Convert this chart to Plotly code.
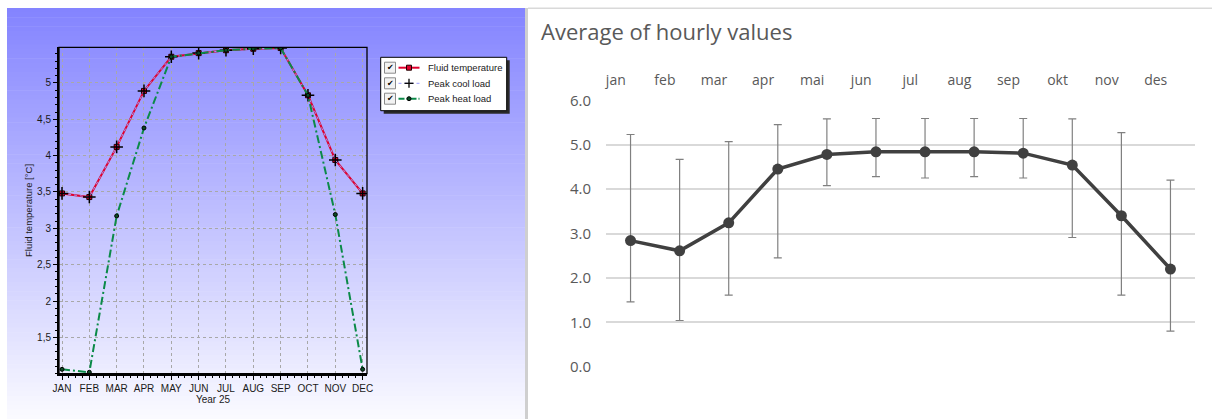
import plotly.graph_objects as go

# ---------------- data ----------------
months_left = ["JAN", "FEB", "MAR", "APR", "MAY", "JUN", "JUL", "AUG", "SEP", "OCT", "NOV", "DEC"]
fluid_temperature = [3.48, 3.43, 4.12, 4.89, 5.36, 5.41, 5.45, 5.47, 5.48, 4.83, 3.94, 3.48]
peak_cool_load = [3.48, 3.43, 4.12, 4.89, 5.36, 5.41, 5.45, 5.47, 5.48, 4.83, 3.94, 3.48]
peak_heat_load = [1.06, 1.02, 3.17, 4.38, 5.36, 5.41, 5.45, 5.47, 5.48, 4.83, 3.19, 1.06]
left_ytick_vals = [1.5, 2, 2.5, 3, 3.5, 4, 4.5, 5]
left_ytick_text = ["1,5", "2", "2,5", "3", "3,5", "4", "4,5", "5"]

months_right = ["jan", "feb", "mar", "apr", "mai", "jun", "jul", "aug", "sep", "okt", "nov", "des"]
avg_values = [2.84, 2.61, 3.24, 4.45, 4.78, 4.84, 4.84, 4.84, 4.81, 4.54, 3.40, 2.20]
max_values = [5.23, 4.67, 5.07, 5.45, 5.58, 5.59, 5.59, 5.59, 5.59, 5.58, 5.27, 4.20]
min_values = [1.46, 1.04, 1.61, 2.45, 4.08, 4.28, 4.25, 4.28, 4.25, 2.91, 1.61, 0.80]

# ---------------- helpers ----------------
W, H = 1212, 419
def px(x):
    return x / W
def py(y):
    return 1 - y / H

idx = list(range(12))
fig = go.Figure()

# ---------------- left chart traces ----------------
fig.add_trace(go.Scatter(
    x=idx, y=fluid_temperature, name="Fluid temperature", mode="lines+markers",
    line=dict(color="#e0002c", width=2),
    marker=dict(symbol="square", size=5, color="#e0002c", line=dict(color="#200000", width=1)),
    xaxis="x", yaxis="y", showlegend=False))
fig.add_trace(go.Scatter(
    x=idx, y=peak_cool_load, name="Peak cool load", mode="lines+markers",
    line=dict(color="#9a9aff", width=1, dash="dot"),
    marker=dict(symbol="cross-thin", size=9, color="black", line=dict(color="black", width=1.5)),
    xaxis="x", yaxis="y", showlegend=False))
fig.add_trace(go.Scatter(
    x=idx, y=peak_heat_load, name="Peak heat load", mode="lines+markers",
    line=dict(color="#0b8a48", width=2, dash="8px,3px,2px,3px"),
    marker=dict(symbol="circle", size=4, color="#0a4a24", line=dict(color="black", width=1)),
    xaxis="x", yaxis="y", showlegend=False))

# ---------------- right chart traces ----------------
err_plus = [mx - a for mx, a in zip(max_values, avg_values)]
err_minus = [a - mn for a, mn in zip(avg_values, min_values)]
fig.add_trace(go.Scatter(
    x=idx, y=avg_values, name="Average", mode="lines+markers",
    line=dict(color="#404040", width=3.5),
    marker=dict(size=11, color="#404040"),
    error_y=dict(type="data", symmetric=False, array=err_plus, arrayminus=err_minus,
                 color="#808080", thickness=1.2, width=4),
    xaxis="x3", yaxis="y3", showlegend=False))
# invisible trace for the top category axis
fig.add_trace(go.Scatter(x=idx, y=avg_values, mode="markers", marker=dict(opacity=0),
                         hoverinfo="skip", xaxis="x4", yaxis="y3", showlegend=False))

shapes = []
# gradient background of left panel
N = 90
top_y, bot_y = 8, 419
c0, c1 = (132, 132, 255), (250, 250, 255)
for i in range(N):
    t = i / (N - 1)
    col = tuple(int(round(c0[k] + (c1[k] - c0[k]) * t)) for k in range(3))
    y0 = top_y + (bot_y - top_y) * i / N
    y1 = top_y + (bot_y - top_y) * (i + 1) / N + 0.6
    shapes.append(dict(type="rect", xref="paper", yref="paper", layer="below",
                       x0=px(7), x1=px(525), y0=py(min(y1, 419)), y1=py(y0),
                       fillcolor="rgb(%d,%d,%d)" % col, line=dict(width=0)))
# separator & top border of right panel
shapes.append(dict(type="line", xref="paper", yref="paper", x0=px(526.5), x1=px(526.5),
                   y0=0, y1=py(8), line=dict(color="#cfcfcf", width=3)))
shapes.append(dict(type="line", xref="paper", yref="paper", x0=px(528), x1=1,
                   y0=py(8.3), y1=py(8.3), line=dict(color="#d9d9d9", width=1.5)))
# frame top/right of left plot
shapes.append(dict(type="rect", xref="x domain", yref="y domain", x0=0, x1=1, y0=0, y1=1,
                   line=dict(color="black", width=1.3)))

# manual legend
lx0, lx1, ly0, ly1 = 380.7, 506.7, 57.3, 110.7
shapes.append(dict(type="rect", xref="paper", yref="paper", x0=px(lx0 + 3), x1=px(lx1 + 3),
                   y0=py(ly1 + 3), y1=py(ly0 + 3), fillcolor="#2a2a2a", line=dict(width=0)))
shapes.append(dict(type="rect", xref="paper", yref="paper", x0=px(lx0), x1=px(lx1),
                   y0=py(ly1), y1=py(ly0), fillcolor="white", line=dict(color="black", width=1)))
rows = [67.7, 83.3, 98.7]
legend_names = ["Fluid temperature", "Peak cool load", "Peak heat load"]
annotations = []
for r, name in zip(rows, legend_names):
    shapes.append(dict(type="rect", xref="paper", yref="paper", x0=px(384.5), x1=px(395.5),
                       y0=py(r + 5.5), y1=py(r - 5.5), fillcolor="#f2f2f2",
                       line=dict(color="#8a8a8a", width=1)))
    annotations.append(dict(text="✔", x=px(390), y=py(r), xref="paper", yref="paper",
                            showarrow=False, xanchor="center", yanchor="middle",
                            font=dict(family="DejaVu Sans", size=8, color="black")))
    annotations.append(dict(text=name, x=px(425.5), y=py(r), xref="paper", yref="paper",
                            showarrow=False, xanchor="left", yanchor="middle",
                            font=dict(family="Liberation Sans", size=9.5, color="#1a1a1a")))
# legend samples
r = rows[0]
shapes.append(dict(type="line", xref="paper", yref="paper", x0=px(398.5), x1=px(419.5),
                   y0=py(r), y1=py(r), line=dict(color="#e0002c", width=2)))
shapes.append(dict(type="rect", xref="paper", yref="paper", x0=px(406.5), x1=px(411.5),
                   y0=py(r + 2.5), y1=py(r - 2.5), fillcolor="#e0002c", line=dict(color="#200000", width=1)))
r = rows[1]
shapes.append(dict(type="line", xref="paper", yref="paper", x0=px(398.5), x1=px(419.5),
                   y0=py(r), y1=py(r), line=dict(color="#9a9aff", width=1, dash="dot")))
shapes.append(dict(type="line", xref="paper", yref="paper", x0=px(404.5), x1=px(413.5),
                   y0=py(r), y1=py(r), line=dict(color="black", width=1.3)))
shapes.append(dict(type="line", xref="paper", yref="paper", x0=px(409), x1=px(409),
                   y0=py(r + 4.5), y1=py(r - 4.5), line=dict(color="black", width=1.3)))
r = rows[2]
shapes.append(dict(type="line", xref="paper", yref="paper", x0=px(398.5), x1=px(419.5),
                   y0=py(r), y1=py(r), line=dict(color="#0b8a48", width=2, dash="6px,2px,2px,2px")))
shapes.append(dict(type="circle", xref="paper", yref="paper", x0=px(407), x1=px(411),
                   y0=py(r + 2), y1=py(r - 2), fillcolor="#0a4a24", line=dict(color="black", width=1)))

# right title
annotations.append(dict(text="Average of hourly values", x=px(539), y=py(31), xref="paper", yref="paper",
                        showarrow=False, xanchor="left", yanchor="middle",
                        font=dict(family="Open Sans", size=22, color="#595959")))

left_font = dict(family="Liberation Sans", size=10, color="#1a1a1a")
right_font = dict(family="Open Sans", size=14, color="#595959")

fig.update_layout(
    width=W, height=H, autosize=False,
    margin=dict(l=0, r=0, t=0, b=0, pad=0, autoexpand=False),
    paper_bgcolor="white", plot_bgcolor="rgba(0,0,0,0)",
    shapes=shapes, annotations=annotations,
    xaxis=dict(domain=[px(59), px(367)], range=[-0.11, 11.16], anchor="y", automargin=False,
               tickmode="array", tickvals=idx, ticktext=months_left, tickfont=left_font,
               ticks="outside", ticklen=4, tickcolor="black",
               showgrid=True, gridcolor="#a8a8a8", griddash="dot", gridwidth=1,
               showline=True, linecolor="black", linewidth=2, zeroline=False,
               minor=dict(dtick=0.25, tick0=0, ticks="outside", ticklen=2, tickcolor="black", showgrid=False),
               title=dict(text="Year 25", font=left_font, standoff=2)),
    yaxis=dict(domain=[py(373.7), py(47.3)], range=[1.0, 5.49], anchor="x", automargin=False,
               tickmode="array", tickvals=left_ytick_vals, ticktext=left_ytick_text, tickfont=left_font,
               ticks="outside", ticklen=4, tickcolor="black",
               showgrid=True, gridcolor="#a8a8a8", griddash="dot", gridwidth=1,
               showline=True, linecolor="black", linewidth=2, zeroline=False,
               minor=dict(dtick=0.1, tick0=0, ticks="outside", ticklen=2, tickcolor="black", showgrid=False),
               title=dict(text="Fluid temperature [°C]", font=dict(family="Liberation Sans", size=9.5, color="#1a1a1a"), standoff=3)),
    xaxis3=dict(domain=[px(606), px(1195)], range=[-0.5, 11.5], anchor="y3", automargin=False,
                showticklabels=False, showgrid=False, zeroline=False, showline=False, ticks=""),
    xaxis4=dict(domain=[px(606), px(1195)], range=[-0.2, 11.8], anchor="y3", overlaying="x3", automargin=False,
                side="top", tickmode="array", tickvals=idx, ticktext=months_right,
                tickfont=right_font, ticks="", ticklabelstandoff=12,
                showgrid=False, zeroline=False, showline=False),
    yaxis3=dict(domain=[py(366.7), py(100.3)], range=[0, 6], anchor="x3", automargin=False,
                tickmode="linear", tick0=0, dtick=1, tickformat=".1f",
                tickfont=dict(family="Open Sans", size=15, color="#595959"),
                showgrid=True, gridcolor="#d9d9d9", gridwidth=1.5, zeroline=False,
                showline=False, ticks="", ticklabelstandoff=14),
)

fig.write_html("out.html", config={"displayModeBar": False},
               post_script="document.body.style.margin='0';document.body.style.overflow='hidden';")
